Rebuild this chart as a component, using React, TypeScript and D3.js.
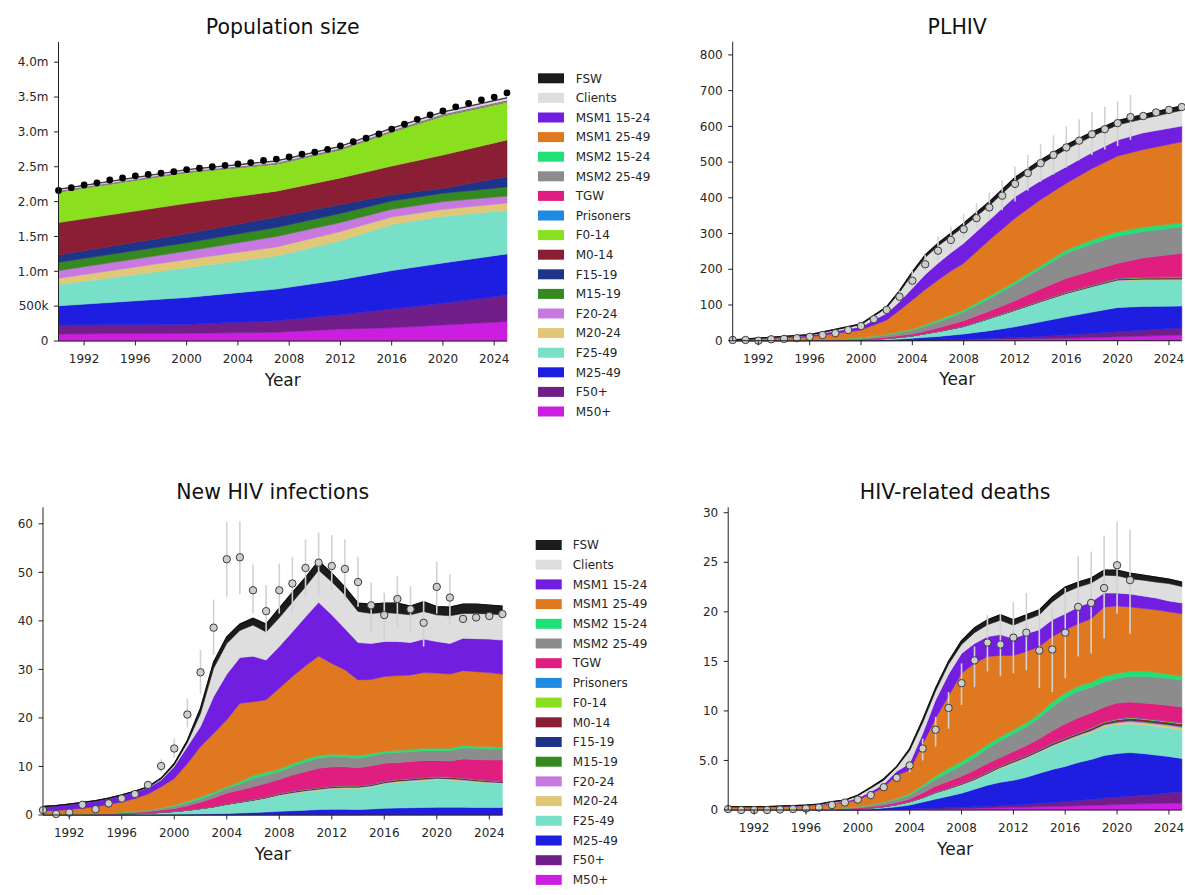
import React from "react";
import * as d3 from "d3";

const FONT = '"DejaVu Sans", Verdana, sans-serif';

// Legend order (top to bottom)
const LABELS = ["FSW","Clients","MSM1 15-24","MSM1 25-49","MSM2 15-24","MSM2 25-49","TGW","Prisoners","F0-14","M0-14","F15-19","M15-19","F20-24","M20-24","F25-49","M25-49","F50+","M50+"];
const COLORS = ["#1c1c1c","#dedede","#721ee0","#e07820","#20e078","#8c8c8c","#e01e80","#1e8ae0","#8ae01e","#8a1e34","#1e348a","#348a1e","#c878e0","#e0c878","#78e0c8","#1e1ee0","#721e8a","#cc1ee0"];
// Stack order bottom -> top
const STACK_KEYS = [...LABELS].reverse();

const X_TICKS = [1992, 1996, 2000, 2004, 2008, 2012, 2016, 2020, 2024];

// ---------------- Population size (millions) ----------------
const popYears = [1990, 2000, 2007, 2012, 2016, 2020, 2025];
const popM50 = [0.10, 0.11, 0.125, 0.17, 0.19, 0.23, 0.28];
const popF50 = [0.13, 0.13, 0.165, 0.205, 0.27, 0.31, 0.38];
const popM25 = [0.275, 0.385, 0.455, 0.505, 0.55, 0.58, 0.59];
const popF25 = [0.305, 0.425, 0.475, 0.56, 0.66, 0.67, 0.625];
const popM20 = [0.09, 0.12, 0.13, 0.13, 0.11, 0.10, 0.105];
const popF20 = [0.11, 0.12, 0.15, 0.13, 0.11, 0.11, 0.10];
const popM15 = [0.12, 0.12, 0.13, 0.13, 0.12, 0.12, 0.13];
const popF15 = [0.105, 0.13, 0.15, 0.13, 0.09, 0.07, 0.15];
const popM0 = [0.465, 0.435, 0.37, 0.38, 0.41, 0.48, 0.525];
const popF0 = [0.44, 0.445, 0.39, 0.405, 0.49, 0.56, 0.545];
const popPris = [0.002, 0.002, 0.002, 0.003, 0.003, 0.003, 0.003];
const popTGW = [0.001, 0.001, 0.001, 0.002, 0.002, 0.002, 0.002];
const popMSM2_25 = [0.002, 0.002, 0.003, 0.003, 0.003, 0.004, 0.004];
const popMSM2_15 = [0.001, 0.001, 0.001, 0.001, 0.002, 0.002, 0.002];
const popMSM1_25 = [0.005, 0.005, 0.006, 0.006, 0.007, 0.007, 0.008];
const popMSM1_15 = [0.003, 0.003, 0.003, 0.004, 0.004, 0.004, 0.004];
const popClients = [0.02, 0.022, 0.024, 0.026, 0.028, 0.03, 0.032];
const popFSW = [0.006, 0.006, 0.007, 0.007, 0.008, 0.008, 0.009];
const popDataYears = d3.range(1990, 2026);
const popData = [2.16,2.20,2.24,2.27,2.31,2.34,2.37,2.39,2.41,2.43,2.46,2.48,2.50,2.52,2.54,2.56,2.59,2.61,2.64,2.68,2.71,2.75,2.80,2.86,2.91,2.97,3.04,3.11,3.18,3.245,3.30,3.36,3.41,3.46,3.50,3.56];

// ---------------- PLHIV (thousands) ----------------
const plYears = [1990, 1996, 2000, 2002, 2003, 2004, 2005, 2006, 2007, 2008, 2010, 2012, 2014, 2016, 2018, 2020, 2022, 2025];
const plM50 = [0, 0, 0, 0.1, 0.2, 0.3, 0.6, 1, 1.5, 2, 3.5, 5, 6, 7, 9, 11, 13, 16];
const plF50 = [0, 0, 0.1, 0.2, 0.2, 0.5, 0.8, 1, 1.5, 2, 3, 4, 6, 9, 11, 14, 16, 20];
const plM25 = [0, 0.2, 0.9, 2.7, 4.1, 6.2, 8.1, 10, 12.5, 15, 21.5, 30, 41, 51, 60, 68, 67, 61];
const plF25 = [0, 0.2, 1, 3, 4.5, 6, 9.5, 13, 16.5, 20, 33, 45, 55, 64, 70, 75, 74, 73];
const plM20 = [0, 0.02, 0.03, 0.1, 0.12, 0.15, 0.2, 0.25, 0.3, 0.35, 0.5, 0.7, 0.8, 0.9, 1.0, 1.2, 1.4, 1.5];
const plF20 = [0, 0.01, 0.03, 0.05, 0.1, 0.15, 0.15, 0.2, 0.22, 0.3, 0.4, 0.6, 0.6, 0.7, 0.8, 1.0, 1.1, 1.2];
const plM15 = [0, 0.01, 0.03, 0.05, 0.08, 0.15, 0.15, 0.2, 0.2, 0.25, 0.35, 0.5, 0.5, 0.6, 0.7, 0.8, 0.9, 1.0];
const plF15 = [0, 0.01, 0.03, 0.05, 0.08, 0.1, 0.15, 0.2, 0.2, 0.25, 0.35, 0.5, 0.5, 0.6, 0.7, 0.8, 0.9, 1.0];
const plM0 = [0, 0.02, 0.03, 0.1, 0.12, 0.15, 0.2, 0.25, 0.3, 0.3, 0.5, 0.6, 0.7, 0.8, 1.0, 1.2, 1.3, 1.5];
const plF0 = [0, 0.02, 0.03, 0.05, 0.1, 0.15, 0.15, 0.2, 0.23, 0.25, 0.4, 0.5, 0.6, 0.7, 0.8, 1.0, 1.1, 1.3];
const plPris = [0, 0.01, 0.02, 0.1, 0.1, 0.15, 0.2, 0.2, 0.25, 0.3, 0.5, 0.6, 0.8, 0.7, 1.0, 1.0, 1.3, 1.5];
const plTGW = [0, 0.2, 1.8, 3.5, 4.8, 5, 6.8, 9.5, 12.3, 15, 19, 24, 32.5, 39, 40, 42, 54, 66];
const plMSM2_25 = [0, 0.3, 3, 6, 8, 10, 14, 17, 20, 24, 35, 46, 57, 70, 75, 76, 74, 74];
const plMSM2_15 = [0, 0.2, 1, 2, 2.5, 3, 4, 5, 6, 6, 7, 7, 8, 9, 11, 12, 12, 11];
const plMSM1_25 = [1.5, 9.8, 22, 40, 60, 82, 98, 112, 123, 131, 157, 178, 185, 187, 200, 212, 217, 227];
const plMSM1_15 = [0.5, 4, 9, 19, 24, 33, 42, 47, 51, 56, 56, 60, 53, 46, 45, 45, 47, 44];
const plClients = [0.1, 1, 6, 15, 26, 40, 48, 48, 46, 46, 40, 42, 46, 49, 45, 42, 39, 44];
const plFSW = [0.2, 1, 2, 3, 5, 6, 7, 8, 9, 10, 11, 12, 12, 12, 12, 12, 12, 12];
const plDataYears = d3.range(1990, 2026);
const plData = [2,2,0,4,5,7,11,16,21,30,41,60,86,123,168,214,252,282,312,343,373,406,439,469,497,520,541,560,578,592,609,626,629,639,646,654];
const plErrYears = d3.range(2003, 2022);
const plLo = [110,150,195,226,258,290,315,340,365,390,420,445,465,485,505,520,535,545,562];
const plHi = [140,195,240,291,320,355,385,415,450,487,520,550,575,600,620,640,655,670,688];

// ---------------- New HIV infections (thousands) ----------------
const niYears = d3.range(1990, 2026);
const niM50 = [0,0,0,0,0,0,0,0,0,0, 0.01,0.01,0.02,0.02,0.03,0.03,0.04,0.04,0.05,0.05, 0.05,0.05,0.05,0.05,0.05,0.06,0.06,0.06,0.06,0.06, 0.06,0.06,0.06,0.06,0.06,0.06];
const niF50 = [0,0,0,0,0,0,0,0,0,0, 0.01,0.01,0.01,0.02,0.02,0.02,0.03,0.03,0.03,0.04, 0.04,0.04,0.04,0.04,0.04,0.04,0.04,0.04,0.04,0.04, 0.04,0.04,0.04,0.04,0.04,0.04];
const niM25 = [0.02,0.02,0.03,0.03,0.04,0.05,0.05,0.06,0.07,0.09, 0.10,0.14,0.17,0.23,0.28,0.37,0.45,0.56,0.67,0.78, 0.91,1.03,1.09,1.09,1.04,1.13,1.3,1.35,1.4,1.45, 1.5,1.5,1.5,1.45,1.45,1.45];
const niF25 = [0.05,0.05,0.06,0.07,0.08,0.10,0.15,0.20,0.28,0.41, 0.58,0.79,1.05,1.33,1.77,2.08,2.38,2.77,3.25,3.53, 3.8,3.98,4.22,4.32,4.37,4.57,5.0,5.25,5.4,5.55, 5.7,5.6,5.4,5.25,5.05,4.95];
const niM20 = [0,0,0,0.01,0.01,0.01,0.01,0.01,0.02,0.02, 0.02,0.02,0.03,0.05,0.06,0.08,0.09,0.09,0.12,0.15, 0.15,0.15,0.15,0.15,0.15,0.15,0.15,0.18,0.18,0.18, 0.18,0.18,0.18,0.15,0.15,0.12];
const niF20 = [0,0,0,0,0,0,0,0.01,0.01,0.01, 0.01,0.01,0.02,0.03,0.04,0.05,0.06,0.06,0.08,0.1, 0.1,0.1,0.1,0.1,0.1,0.1,0.1,0.12,0.12,0.12, 0.12,0.12,0.12,0.1,0.1,0.08];
const niM15 = [0,0,0,0,0,0,0,0,0,0, 0,0,0.01,0.01,0.02,0.02,0.03,0.03,0.04,0.05, 0.05,0.05,0.05,0.05,0.05,0.05,0.05,0.06,0.06,0.06, 0.06,0.06,0.06,0.05,0.05,0.04];
const niF15 = [0,0,0,0,0,0,0,0,0,0, 0,0,0.01,0.01,0.02,0.02,0.03,0.03,0.04,0.05, 0.05,0.05,0.05,0.05,0.05,0.05,0.05,0.06,0.06,0.06, 0.06,0.06,0.06,0.05,0.05,0.04];
const niM0 = [0.01,0.01,0.01,0.01,0.01,0.01,0.01,0.02,0.02,0.02, 0.02,0.02,0.03,0.04,0.05,0.06,0.07,0.07,0.09,0.11, 0.11,0.11,0.11,0.11,0.11,0.11,0.11,0.13,0.13,0.13, 0.13,0.13,0.13,0.11,0.11,0.09];
const niF0 = [0,0,0,0,0,0,0,0,0.01,0.01, 0.01,0.01,0.01,0.02,0.02,0.03,0.03,0.03,0.04,0.05, 0.05,0.05,0.05,0.05,0.05,0.05,0.05,0.06,0.06,0.06, 0.06,0.06,0.06,0.05,0.05,0.04];
const niPris = [0,0,0,0,0,0,0,0,0,0, 0,0,0.01,0.01,0.01,0.02,0.02,0.02,0.03,0.03, 0.03,0.03,0.03,0.03,0.03,0.03,0.03,0.03,0.03,0.03, 0.03,0.03,0.03,0.03,0.03,0.03];
const niTGW = [0.02,0.02,0.03,0.04,0.06,0.08,0.18,0.2,0.3,0.45, 0.55,0.9,1.25,1.75,2.2,2.35,2.6,2.8,2.9,3.3, 3.6,4.0,4.0,3.9,3.7,3.8,3.7,3.5,3.5,3.5, 3.3,3.3,3.9,4.1,4.2,4.4];
const niMSM2_25 = [0.02,0.03,0.03,0.04,0.05,0.07,0.1,0.15,0.2,0.3, 0.5,0.6,0.7,0.8,1.0,1.3,1.7,1.7,1.6,1.8, 2.0,2.1,2.1,2.0,2.0,2.0,2.1,2.1,2.0,2.0, 2.0,2.1,2.3,2.3,2.3,2.2];
const niMSM2_15 = [0.01,0.01,0.01,0.02,0.03,0.03,0.1,0.1,0.1,0.15, 0.2,0.3,0.4,0.4,0.3,0.4,0.6,0.6,0.5,0.5, 0.6,0.5,0.5,0.5,0.5,0.5,0.4,0.4,0.4,0.5, 0.5,0.5,0.5,0.4,0.4,0.4];
const niMSM1_25 = [0.72,0.81,0.98,1.18,1.42,1.8,2.1,2.65,3.3,4.35, 5.5,7.8,10.4,12.1,13.8,16.2,15.2,14.9,16.7,18.0, 19.2,20.5,18.7,17.5,15.6,15.3,15.4,15.4,15.4,15.6, 15.5,15.3,15.4,15.4,15.3,15.1];
const niMSM1_15 = [0.9,1.0,1.1,1.15,1.2,1.3,1.4,1.4,1.3,1.4, 2.5,3.5,4.1,7.6,9.4,9.4,9.4,8.2,8.6,9.2, 10.1,11.1,10.0,8.5,7.7,7.4,7.2,7.0,6.7,6.9, 6.5,6.3,6.7,6.8,6.9,7.0];
const niClients = [0,0,0,0,0,0,0,0.05,0.1,0.2, 0.3,0.8,2.7,5.8,6.3,5.6,6.4,5.8,5.9,6.1, 6.2,6.6,6.8,6.9,6.4,6.2,6.0,5.8,5.7,5.7, 5.5,5.7,5.1,5.2,5.2,5.2];
const niFSW = [0,0,0,0.05,0.05,0.05,0.05,0.05,0.1,0.2, 0.3,0.5,1.1,1.3,1.4,1.3,1.4,1.6,2.0,2.0, 1.9,1.9,1.8,1.6,1.7,1.9,1.9,2.1,1.8,2.0, 1.7,1.8,1.9,1.9,1.8,1.8];
const niDataYears = d3.range(1990, 2026);
const niData = [1.0,0.2,0.5,2.1,1.2,2.4,3.4,4.3,6.2,10.1, 13.7,20.7,29.4,38.6,52.7,53.1,46.3,42.0,46.3,47.7, 50.9,52.0,51.3,50.7,48.0,43.2,41.2,44.5,42.4,39.6, 47.0,44.8,40.4,40.7,41.0,41.4];
const niErrYears = d3.range(1999, 2022);
const niLo = [8.8,11.8,18,25,33,45,45.5,41.5,37.4,41.5,41.5,44.6,45.3,46.3,44.3,42.9,37.7,36.0,38.8,37.7,34.7,41.5,39.1];
const niHi = [11.5,15.8,24,34,44.4,60.4,60.5,51.6,47.4,51.8,53.1,56.8,58.2,57.7,56.8,53.2,47.9,45.8,49.2,47.2,44.1,52.2,49.6];

// ---------------- HIV-related deaths (thousands) ----------------
const deYears = d3.range(1990, 2026);
const deM50 = [0,0,0,0,0,0,0,0,0,0, 0,0.01,0.02,0.03,0.04,0.06,0.08,0.1,0.13,0.16, 0.2,0.23,0.27,0.3,0.33,0.37,0.4,0.43,0.47,0.5, 0.55,0.6,0.62,0.65,0.68,0.7];
const deF50 = [0,0,0,0,0,0,0,0,0,0, 0.01,0.01,0.02,0.03,0.06,0.08,0.1,0.12,0.14,0.17, 0.18,0.21,0.23,0.28,0.33,0.38,0.45,0.52,0.58,0.7, 0.75,0.8,0.88,0.95,1.07,1.15];
const deM25 = [0.01,0.01,0.01,0.01,0.01,0.01,0.01,0.02,0.02,0.03, 0.04,0.08,0.16,0.26,0.4,0.66,0.92,1.18,1.43,1.77, 2.12,2.36,2.5,2.72,3.04,3.35,3.55,3.85,4.05,4.3, 4.4,4.4,4.2,3.95,3.65,3.35];
const deF25 = [0.01,0.01,0.01,0.01,0.01,0.01,0.01,0.01,0.02,0.03, 0.05,0.08,0.12,0.2,0.3,0.4,0.6,0.7,0.8,0.9, 1.1,1.4,1.7,1.9,2.1,2.3,2.5,2.6,2.7,2.9, 2.9,2.9,2.9,2.9,2.9,2.9];
const deM20 = [0,0,0,0,0,0,0,0,0,0, 0,0.01,0.01,0.01,0.02,0.02,0.03,0.03,0.06,0.06, 0.06,0.08,0.09,0.09,0.09,0.1,0.12,0.12,0.15,0.15, 0.18,0.2,0.2,0.2,0.2,0.21];
const deF20 = [0,0,0,0,0,0,0,0,0,0, 0,0,0.01,0.01,0.01,0.01,0.02,0.02,0.03,0.03, 0.03,0.04,0.05,0.05,0.05,0.05,0.06,0.06,0.08,0.08, 0.09,0.1,0.1,0.1,0.1,0.1];
const deM15 = [0,0,0,0,0,0,0,0,0,0, 0,0,0,0,0,0.01,0.01,0.01,0.02,0.02, 0.02,0.02,0.03,0.03,0.03,0.04,0.04,0.04,0.05,0.05, 0.06,0.06,0.06,0.06,0.06,0.07];
const deF15 = [0,0,0,0,0,0,0,0,0,0, 0,0,0,0,0,0.01,0.01,0.01,0.02,0.02, 0.02,0.02,0.03,0.03,0.03,0.04,0.04,0.04,0.05,0.05, 0.06,0.06,0.06,0.06,0.06,0.07];
const deM0 = [0.01,0.01,0.01,0.01,0.01,0.01,0.01,0.01,0.01,0.01, 0.01,0.01,0.01,0.01,0.01,0.02,0.02,0.02,0.04,0.04, 0.04,0.05,0.06,0.06,0.06,0.07,0.08,0.08,0.1,0.1, 0.12,0.13,0.13,0.13,0.13,0.14];
const deF0 = [0,0,0,0,0,0,0,0,0,0, 0,0,0,0.01,0.01,0.01,0.01,0.01,0.02,0.02, 0.02,0.03,0.03,0.03,0.03,0.03,0.04,0.04,0.05,0.05, 0.06,0.07,0.07,0.07,0.07,0.07];
const dePris = [0,0,0,0,0,0,0,0,0,0, 0,0,0,0,0,0,0.01,0.01,0.01,0.01, 0.01,0.01,0.01,0.01,0.01,0.02,0.02,0.02,0.02,0.02, 0.03,0.03,0.03,0.03,0.03,0.04];
const deTGW = [0.01,0.01,0.01,0.01,0.01,0.01,0.02,0.02,0.03,0.05, 0.09,0.12,0.15,0.19,0.25,0.43,0.6,0.7,0.7,0.8, 0.9,0.85,0.9,1.0,1.1,1.25,1.4,1.5,1.5,1.5, 1.6,1.55,1.55,1.6,1.6,1.6];
const deMSM2_25 = [0.01,0.01,0.01,0.01,0.01,0.01,0.01,0.02,0.03,0.05, 0.1,0.16,0.22,0.3,0.4,0.6,0.7,0.9,1.1,1.3, 1.5,1.7,1.8,1.9,2.1,2.4,2.6,2.7,2.6,2.5, 2.5,2.6,2.7,2.7,2.75,2.7];
const deMSM2_15 = [0.01,0.01,0.01,0.01,0.01,0.01,0.01,0.01,0.01,0.02, 0.05,0.07,0.08,0.1,0.15,0.2,0.3,0.4,0.4,0.4, 0.4,0.4,0.4,0.4,0.4,0.5,0.5,0.5,0.5,0.6, 0.5,0.5,0.5,0.5,0.4,0.4];
const deMSM1_25 = [0.24,0.24,0.24,0.24,0.27,0.31,0.33,0.39,0.53,0.56, 0.65,1.05,1.5,2.35,2.35,4.1,5.85,7.3,8.9,9.1, 8.9,8.2,7.5,7.2,6.8,6.6,6.4,6.3,6.4,7.0, 6.8,6.5,6.35,6.3,6.3,6.3];
const deMSM1_15 = [0.02,0.02,0.02,0.02,0.04,0.04,0.05,0.06,0.09,0.1, 0.2,0.25,0.3,0.4,0.7,1.1,1.85,2.2,2.0,2.0, 2.0,2.1,1.7,1.8,1.7,1.7,1.6,1.7,1.7,1.4, 1.3,1.3,1.25,1.2,1.1,1.1];
const deClients = [0.01,0.01,0.01,0.01,0.01,0.02,0.03,0.04,0.08,0.12, 0.25,0.35,0.4,0.4,1.3,1.1,0.9,1.0,0.9,1.1, 1.2,1.45,1.35,1.4,1.5,1.8,2.15,2.0,1.9,1.8, 1.75,1.55,1.6,1.6,1.75,1.65];
const deFSW = [0.02,0.02,0.02,0.02,0.02,0.02,0.02,0.02,0.03,0.03, 0.05,0.1,0.15,0.1,0.2,0.3,0.3,0.3,0.4,0.5, 0.5,0.55,0.55,0.5,0.5,0.5,0.55,0.5,0.5,0.5, 0.55,0.55,0.5,0.5,0.45,0.45];
const deDataYears = d3.range(1990, 2022);
const deData = [0.1,0,0,0,0.05,0.1,0.15,0.25,0.5,0.75, 1.05,1.5,2.3,3.25,4.5,6.2,8.1,10.3,12.8,15.1, 16.9,16.7,17.4,17.9,16.1,16.2,17.9,20.5,20.9,22.4, 24.7,23.2];
const deErrYears = d3.range(2004, 2022);
const deLo = [3.8,5.0,6.4,8.2,10.6,12.4,14.0,13.5,13.8,14.1,12.3,11.9,13.3,15.5,15.8,17.3,19.8,17.8];
const deHi = [5.3,7.2,9.4,11.9,14.8,16.5,19.7,19.8,21.0,21.9,20.3,20.5,22.4,25.6,26.1,27.7,29.1,28.3];

// series arrays listed in STACK_KEYS order (bottom -> top)
const popSeries = [popM50, popF50, popM25, popF25, popM20, popF20, popM15, popF15, popM0, popF0, popPris, popTGW, popMSM2_25, popMSM2_15, popMSM1_25, popMSM1_15, popClients, popFSW];
const plSeries = [plM50, plF50, plM25, plF25, plM20, plF20, plM15, plF15, plM0, plF0, plPris, plTGW, plMSM2_25, plMSM2_15, plMSM1_25, plMSM1_15, plClients, plFSW];
const niSeries = [niM50, niF50, niM25, niF25, niM20, niF20, niM15, niF15, niM0, niF0, niPris, niTGW, niMSM2_25, niMSM2_15, niMSM1_25, niMSM1_15, niClients, niFSW];
const deSeries = [deM50, deF50, deM25, deF25, deM20, deF20, deM15, deF15, deM0, deF0, dePris, deTGW, deMSM2_25, deMSM2_15, deMSM1_25, deMSM1_15, deClients, deFSW];

const colorOf = (k: string) => COLORS[LABELS.indexOf(k)];

type PanelCfg = {
  title: string;
  x0: number; x1: number; yTop: number; yBottom: number; yMax: number;
  yTicks: number[]; yFmt: (v: number) => string;
  years: number[]; series: number[][];
  dataYears: number[]; data: number[];
  errYears?: number[]; lo?: number[]; hi?: number[];
  blackDots?: boolean; totalLine?: boolean;
};

function Panel({ c }: { c: PanelCfg }) {
  const x = d3.scaleLinear().domain([1990, 2025]).range([c.x0, c.x1]);
  const y = d3.scaleLinear().domain([0, c.yMax]).range([c.yBottom, c.yTop]);
  const rows = c.years.map((yr, i) => {
    const r: any = { year: yr };
    STACK_KEYS.forEach((k, j) => { r[k] = c.series[j][i]; });
    return r;
  });
  const stacked = d3.stack<any>().keys(STACK_KEYS)(rows);
  const area = d3.area<any>().x((d: any) => x(d.data.year)).y0((d: any) => y(d[0])).y1((d: any) => y(d[1]));
  const top = stacked[stacked.length - 1];
  const line = d3.line<any>().x((d: any) => x(d.data.year)).y((d: any) => y(d[1]));
  const cx = (c.x0 + c.x1) / 2;
  return (
    <g>
      {stacked.map((s: any) => (
        <path key={s.key} d={area(s) || ""} fill={colorOf(s.key)} stroke={colorOf(s.key)} strokeWidth={0.6} />
      ))}
      {c.totalLine && <path d={line(top) || ""} fill="none" stroke="#111" strokeWidth={1.3} />}
      {c.errYears && c.errYears.map((yr, i) => (
        <line key={"e" + yr} x1={x(yr)} x2={x(yr)} y1={y(c.lo![i])} y2={y(c.hi![i])} stroke="#d2d2d2" strokeWidth={1.6} />
      ))}
      {c.dataYears.map((yr, i) => (
        c.blackDots
          ? <circle key={"p" + yr} cx={x(yr)} cy={y(c.data[i])} r={3.4} fill="#000" />
          : <circle key={"p" + yr} cx={x(yr)} cy={y(c.data[i])} r={3.7} fill="#cdcdcd" stroke="#3c3c3c" strokeWidth={1} />
      ))}
      <line x1={c.x0} x2={c.x0} y1={c.yTop} y2={c.yBottom} stroke="#222" strokeWidth={1} />
      <line x1={c.x0} x2={c.x1} y1={c.yBottom} y2={c.yBottom} stroke="#222" strokeWidth={1} />
      {c.yTicks.map((t) => (
        <g key={"yt" + t}>
          <line x1={c.x0 - 4.5} x2={c.x0} y1={y(t)} y2={y(t)} stroke="#222" strokeWidth={1} />
          <text x={c.x0 - 10} y={y(t)} dy="0.35em" textAnchor="end" fontSize={12} fill="#262626" fontFamily={FONT}>{c.yFmt(t)}</text>
        </g>
      ))}
      {X_TICKS.map((t) => (
        <g key={"xt" + t}>
          <line x1={x(t)} x2={x(t)} y1={c.yBottom} y2={c.yBottom + 4.5} stroke="#222" strokeWidth={1} />
          <text x={x(t)} y={c.yBottom + 22} textAnchor="middle" fontSize={12} fill="#262626" fontFamily={FONT}>{t}</text>
        </g>
      ))}
      <text x={cx} y={c.yBottom + 44.5} textAnchor="middle" fontSize={17} fill="#1a1a1a" fontFamily={FONT}>Year</text>
      <text x={cx} y={c.yTop - 8} textAnchor="middle" fontSize={20.5} fill="#111" fontFamily={FONT}>{c.title}</text>
    </g>
  );
}

function Legend({ x, y0, step, textX }: { x: number; y0: number; step: number; textX: number }) {
  return (
    <g>
      {LABELS.map((l, i) => (
        <g key={l}>
          <rect x={x} y={y0 + i * step - 5} width={26} height={10} fill={COLORS[i]} />
          <text x={textX} y={y0 + i * step} dy="0.35em" fontSize={12} fill="#262626" fontFamily={FONT}>{l}</text>
        </g>
      ))}
    </g>
  );
}

const popFmt = (v: number) => (v === 0 ? "0" : v < 1 ? `${Math.round(v * 1000)}k` : `${v.toFixed(1)}m`);

const panels: PanelCfg[] = [
  {
    title: "Population size", x0: 58.5, x1: 507, yTop: 42, yBottom: 341, yMax: 4.29,
    yTicks: [0, 0.5, 1, 1.5, 2, 2.5, 3, 3.5, 4], yFmt: popFmt,
    years: popYears, series: popSeries, dataYears: popDataYears, data: popData, blackDots: true,
  },
  {
    title: "PLHIV", x0: 732.7, x1: 1181.8, yTop: 41.7, yBottom: 340.7, yMax: 837,
    yTicks: [0, 100, 200, 300, 400, 500, 600, 700, 800], yFmt: (v) => String(v),
    years: plYears, series: plSeries, dataYears: plDataYears, data: plData,
    errYears: plErrYears, lo: plLo, hi: plHi, totalLine: true,
  },
  {
    title: "New HIV infections", x0: 43, x1: 502.4, yTop: 507.3, yBottom: 815, yMax: 63.4,
    yTicks: [0, 10, 20, 30, 40, 50, 60], yFmt: (v) => String(v),
    years: niYears, series: niSeries, dataYears: niDataYears, data: niData,
    errYears: niErrYears, lo: niLo, hi: niHi, totalLine: true,
  },
  {
    title: "HIV-related deaths", x0: 728.2, x1: 1181.9, yTop: 507.3, yBottom: 810, yMax: 30.55,
    yTicks: [0, 5, 10, 15, 20, 25, 30], yFmt: (v) => (v === 0 ? "0" : v === 5 ? "5.0" : String(v)),
    years: deYears, series: deSeries, dataYears: deDataYears, data: deData,
    errYears: deErrYears, lo: deLo, hi: deHi, totalLine: true,
  },
];

export default function App() {
  return (
    <svg width={1185} height={895} style={{ position: "absolute", left: 0, top: 0, background: "#fff" }}>
      <rect x={0} y={0} width={1185} height={895} fill="#fff" />
      {panels.map((p) => <Panel key={p.title} c={p} />)}
      <Legend x={538} y0={78.3} step={19.6} textX={575.7} />
      <Legend x={535.7} y0={545} step={19.7} textX={572.7} />
    </svg>
  );
}
